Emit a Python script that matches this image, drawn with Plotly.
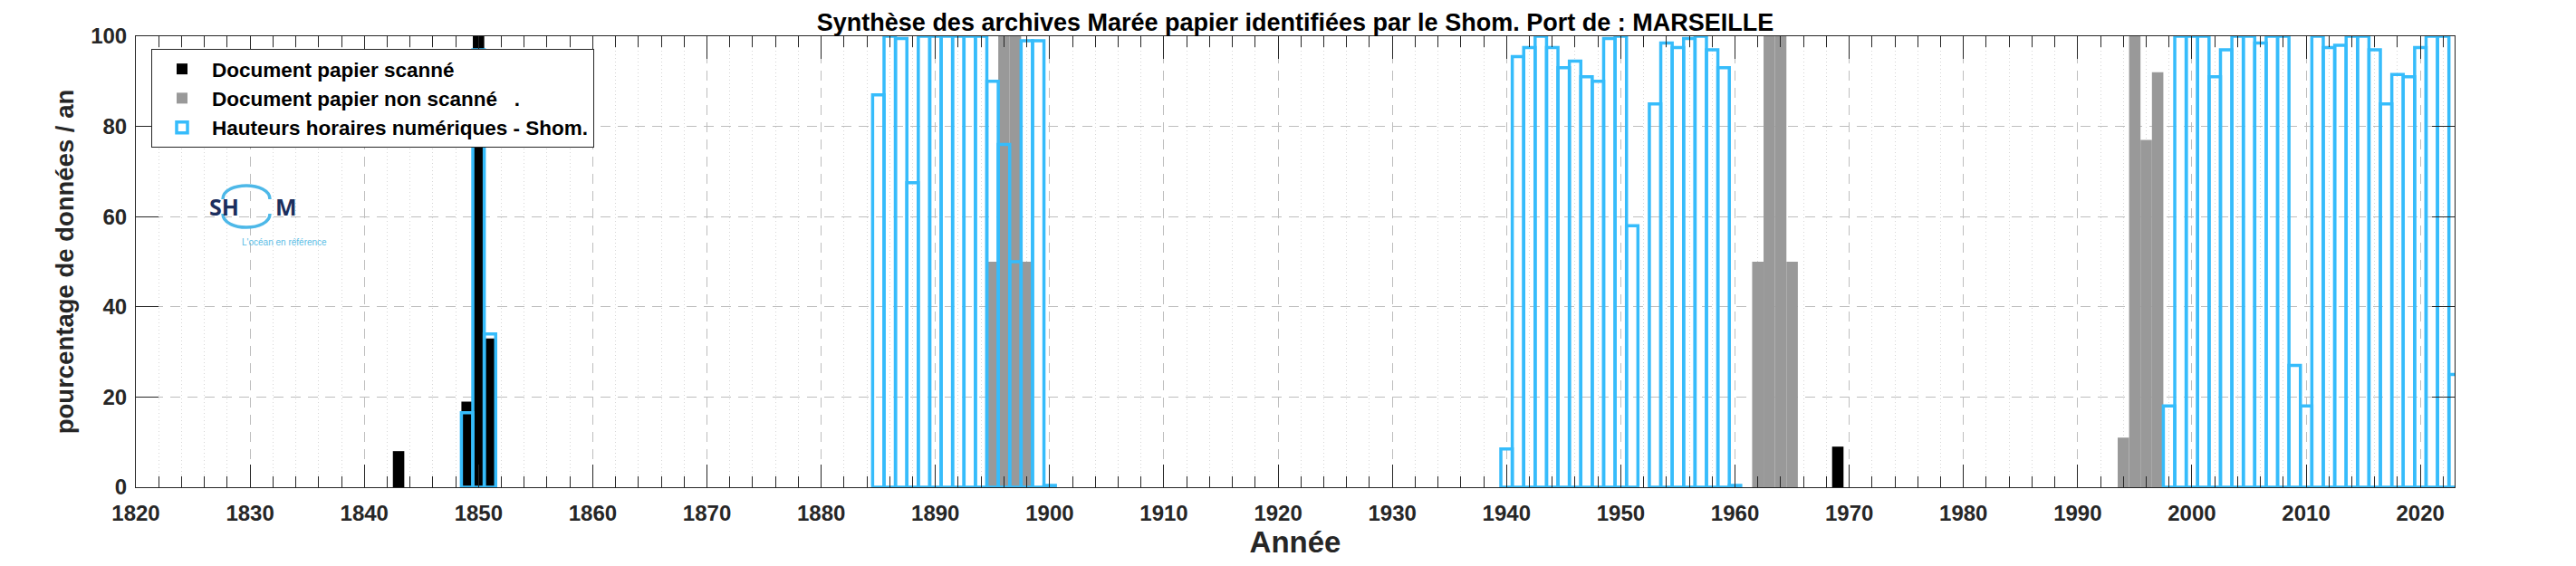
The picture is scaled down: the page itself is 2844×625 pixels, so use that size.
import plotly.graph_objects as go

# ---------------- data ----------------
scan_years = [1843, 1849, 1850, 1851, 1969]
scan_vals = [8, 19, 100, 33, 9]

nonscan_years = [1895, 1896, 1897, 1898, 1962, 1963, 1964, 1965, 1994, 1995, 1996, 1997]
nonscan_vals = [50, 100, 100, 50, 50, 100, 100, 50, 11, 100, 77, 92]

num_years = [1849, 1850, 1851,
             1885, 1886, 1887, 1888, 1889, 1890, 1891, 1892, 1893, 1894, 1895, 1896, 1897, 1898, 1899, 1900,
             1940, 1941, 1942, 1943, 1944, 1945, 1946, 1947, 1948, 1949, 1950, 1951,
             1953, 1954, 1955, 1956, 1957, 1958, 1959, 1960,
             1998, 1999, 2000, 2001, 2002, 2003, 2004, 2005, 2006, 2007, 2008, 2009, 2010,
             2011, 2012, 2013, 2014, 2015, 2016, 2017, 2018, 2019, 2020, 2021, 2022, 2023]
num_vals = [16.5, 97, 34,
            87, 100, 99.5, 67.5, 100, 100, 100, 100, 100, 100, 90, 76, 50, 99, 99, 0.4,
            8.5, 95.5, 97.5, 100, 97.5, 93, 94.5, 91, 90, 99.5, 100, 58,
            85, 98.5, 97.5, 99.5, 100, 97, 93, 0.4,
            18, 100, 100, 100, 91, 97, 100, 100, 98.5, 100, 100, 27, 18,
            100, 97.5, 98, 100, 100, 97, 85, 91.5, 91, 97.5, 100, 100, 25]

series_names = ["Document papier scanné",
                "Document papier non scanné\u00a0\u00a0\u00a0.",
                "Hauteurs horaires numériques - Shom."]

title_text = "Synthèse des archives Marée papier identifiées par le Shom. Port de : MARSEILLE"
x_title = "Année"
y_title = "pourcentage de données / an"

# ---------------- style ----------------
FONT = "Liberation Sans"
BLUE = "#36BCFB"
GRAY = "#999999"
AX = "#262626"

W, H = 2844, 625
L, R, T, B = 142, 142, 32, 95
PW = W - L - R
PH = H - T - B


def px2paper(x, y):
    return (x - L) / PW, (H - B - y) / PH


fig = go.Figure()
fig.add_bar(x=scan_years, y=scan_vals, width=1, name=series_names[0],
            marker=dict(color="black", line=dict(width=0)))
fig.add_bar(x=nonscan_years, y=nonscan_vals, width=1, name=series_names[1],
            marker=dict(color=GRAY, line=dict(width=0)))
fig.add_bar(x=num_years, y=num_vals, width=1, name=series_names[2],
            marker=dict(color="rgba(255,255,255,0)", line=dict(color=BLUE, width=3.5)))

tickfont = dict(family=FONT, size=24, color=AX, weight="bold")
labfont = dict(family=FONT, size=27.5, color=AX, weight="bold")

lx, ly = px2paper(159, 46)
fig.update_layout(
    width=W, height=H,
    margin=dict(l=L, r=R, t=T, b=B, autoexpand=False),
    paper_bgcolor="white", plot_bgcolor="white",
    barmode="overlay",
    showlegend=True,
    title=dict(text=title_text, x=0.5, xref="paper", xanchor="center",
               y=1 - 16.5 / H, yref="container", yanchor="middle",
               font=dict(family=FONT, size=27, color="black", weight="bold")),
    legend=dict(x=lx, y=ly, xanchor="left", yanchor="top",
                bgcolor="white", bordercolor=AX, borderwidth=1,
                font=dict(family=FONT, size=22.5, color="black", weight="bold"),
                traceorder="normal", itemwidth=56, tracegroupgap=0),
    xaxis=dict(range=[1820, 2023], tickmode="linear", tick0=1820, dtick=10,
               ticks="inside", ticklen=25, tickwidth=1, tickcolor=AX,
               showline=True, linecolor=AX, linewidth=1, mirror="allticks",
               showgrid=True, gridcolor="#BEBEBE", gridwidth=1, griddash="11px,8px",
               zeroline=False,
               minor=dict(dtick=2, tick0=1820, ticks="inside", ticklen=12, tickcolor=AX,
                          showgrid=True, gridcolor="#D6D6D6", gridwidth=1, griddash="1px,3px"),
               tickfont=tickfont, ticklabelstandoff=7,
               title=dict(text=x_title, font=dict(family=FONT, size=33, color=AX, weight="bold"),
                          standoff=0)),
    yaxis=dict(range=[0, 100], tickmode="linear", tick0=0, dtick=20,
               ticks="inside", ticklen=25, tickwidth=1, tickcolor=AX,
               showline=True, linecolor=AX, linewidth=1, mirror="allticks",
               showgrid=True, gridcolor="#BEBEBE", gridwidth=1, griddash="11px,8px",
               zeroline=False,
               tickfont=tickfont, ticklabelstandoff=4,
               title=dict(text=y_title, font=labfont, standoff=10)),
)

# ---------------- SHOM logo (decoration) ----------------
ring = "#4DB8E8"
cx, cy, rx, ry = 264, 220, 26, 28


def arc(sign):
    a = px2paper(cx - rx, cy + sign * 8)
    b = px2paper(cx - rx, cy + sign * ry)
    c = px2paper(cx + rx, cy + sign * ry)
    d = px2paper(cx + rx, cy + sign * 8)
    return f"M {a[0]},{a[1]} C {b[0]},{b[1]} {c[0]},{c[1]} {d[0]},{d[1]}"


for s in (-1, 1):
    fig.add_shape(type="path", xref="paper", yref="paper", path=arc(s),
                  line=dict(color=ring, width=3.5))
sx, sy = px2paper(221, 220)
fig.add_annotation(x=sx, y=sy, xref="paper", yref="paper", text="SH", showarrow=False,
                   font=dict(family="Open Sans", size=25, color="#1C2F5E", weight="bold"))
mx, my = px2paper(294, 220)
fig.add_annotation(x=mx, y=my, xref="paper", yref="paper", text="M", showarrow=False,
                   font=dict(family="Open Sans", size=25, color="#1C2F5E", weight="bold"))
tx, ty = px2paper(257, 259)
fig.add_annotation(x=tx, y=ty, xref="paper", yref="paper", text="L'océan en référence",
                   showarrow=False,
                   font=dict(family="Liberation Sans Narrow, Liberation Sans", size=10, color="#5BBDE6"))

fig.write_html("out.html")
